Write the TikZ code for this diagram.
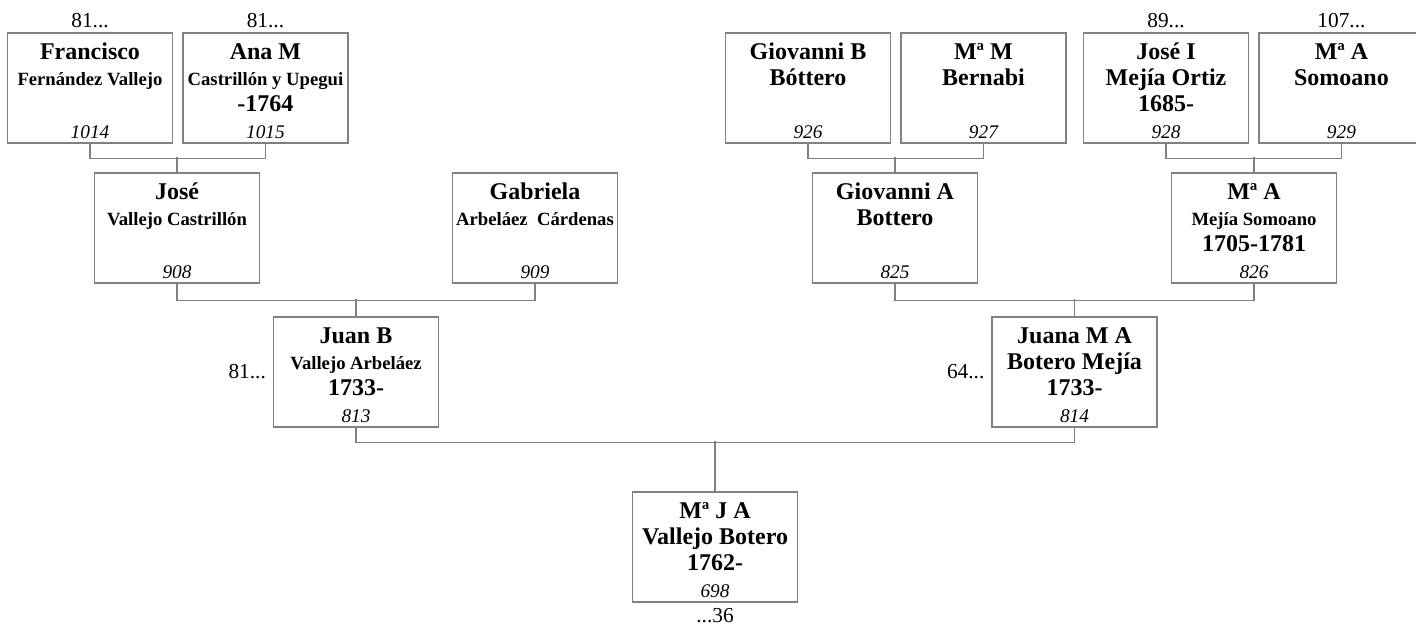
\documentclass[tikz,border=0pt]{standalone}
\usepackage{fontspec}
\setmainfont{Liberation Serif}
\usetikzlibrary{positioning}
\tikzstyle{person} = [rectangle, minimum width=123.75pt, minimum height=82.5pt, inner sep=0pt,
                      align=center, draw=gray, line width=1.1pt, font=\bfseries\fontsize{18}{19.8}\selectfont]
\tikzstyle{tag}    = [inner sep=0pt, font=\fontsize{16}{18}\selectfont]
\tikzstyle{link}   = [draw=gray, line width=1.1pt]
\newcommand{\firstln}{\rule{0pt}{19.5pt}}
\newcommand{\surn}{\fontsize{14}{19.8}\selectfont}
\newcommand{\refno}[1]{{\mdseries\itshape\fontsize{14.5}{19.8}\selectfont #1}\rule[-3.6pt]{0pt}{3.6pt}}

\begin{document}
\begin{tikzpicture}[x=0.75pt, y=-0.75pt]
    \useasboundingbox (0,0) rectangle (1416,626);

    % great-grandparents
    \node (p1014) [person] at (90,88) {\firstln Francisco\\ \surn Fernández Vallejo\\ \mbox{}\\ \refno{1014}};
    \node (p1015) [person, right=6.75pt of p1014] {\firstln Ana M\\ \surn Castrillón y Upegui\\ -1764\\ \refno{1015}};
    \node (p926) [person] at (808,88) {\firstln Giovanni B\\ Bóttero\\ \mbox{}\\ \refno{926}};
    \node (p927) [person, right=6.75pt of p926] {\firstln Mª M\\ Bernabi\\ \mbox{}\\ \refno{927}};
    \node (p928) [person] at (1166,88) {\firstln José I\\ Mejía Ortiz\\ 1685-\\ \refno{928}};
    \node (p929) [person, right=6.75pt of p928] {\firstln Mª A\\ Somoano\\ \mbox{}\\ \refno{929}};

    % grandparents
    \node (p908) [person] at (177,228) {\firstln José\\ \surn Vallejo Castrillón\\ \mbox{}\\ \refno{908}};
    \node (p909) [person] at (535,228) {\firstln Gabriela\\ \surn Arbeláez~ Cárdenas\\ \mbox{}\\ \refno{909}};
    \node (p825) [person] at (895,228) {\firstln Giovanni A\\ Bottero\\ \mbox{}\\ \refno{825}};
    \node (p826) [person] at (1254,228) {\firstln Mª A\\ \surn Mejía Somoano\\ 1705-1781\\ \refno{826}};

    % parents and child
    \node (p813) [person] at (356,372) {\firstln Juan B\\ \surn Vallejo Arbeláez\\ 1733-\\ \refno{813}};
    \node (p814) [person] at (1074.5,372) {\firstln Juana M A\\ Botero Mejía\\ 1733-\\ \refno{814}};
    \node (p698) [person] at (715,547) {\firstln Mª J A\\ Vallejo Botero\\ 1762-\\ \refno{698}};

    % continuation marks
    \node (t1014) [tag, above=3.5pt of p1014] {81...};
    \node (t1015) [tag, above=3.5pt of p1015] {81...};
    \node (t928) [tag, above=3.5pt of p928] {89...};
    \node (t929) [tag, above=3.5pt of p929] {107...};
    \node (t813) [tag, left=5pt of p813] {81...};
    \node (t814) [tag, left=5pt of p814] {64...};
    \node (t698) [tag, below=4pt of p698] {...36};

    \draw[link] (p1014.south) -- ++(0,15) -| (p1015.south);
    \draw[link] (p908.north) -- ++(0,-15);
    \draw[link] (p926.south) -- ++(0,15) -| (p927.south);
    \draw[link] (p825.north) -- ++(0,-15);
    \draw[link] (p928.south) -- ++(0,15) -| (p929.south);
    \draw[link] (p826.north) -- ++(0,-15);
    \draw[link] (p908.south) -- ++(0,17) -| (p909.south);
    \draw[link] (p813.north) -- ++(0,-17);
    \draw[link] (p825.south) -- ++(0,17) -| (p826.south);
    \draw[link] (p814.north) -- ++(0,-17);
    \draw[link] (p813.south) -- ++(0,15) -| (p814.south);
    \draw[link] (p698.north) -- ++(0,-50);
\end{tikzpicture}
\end{document}
